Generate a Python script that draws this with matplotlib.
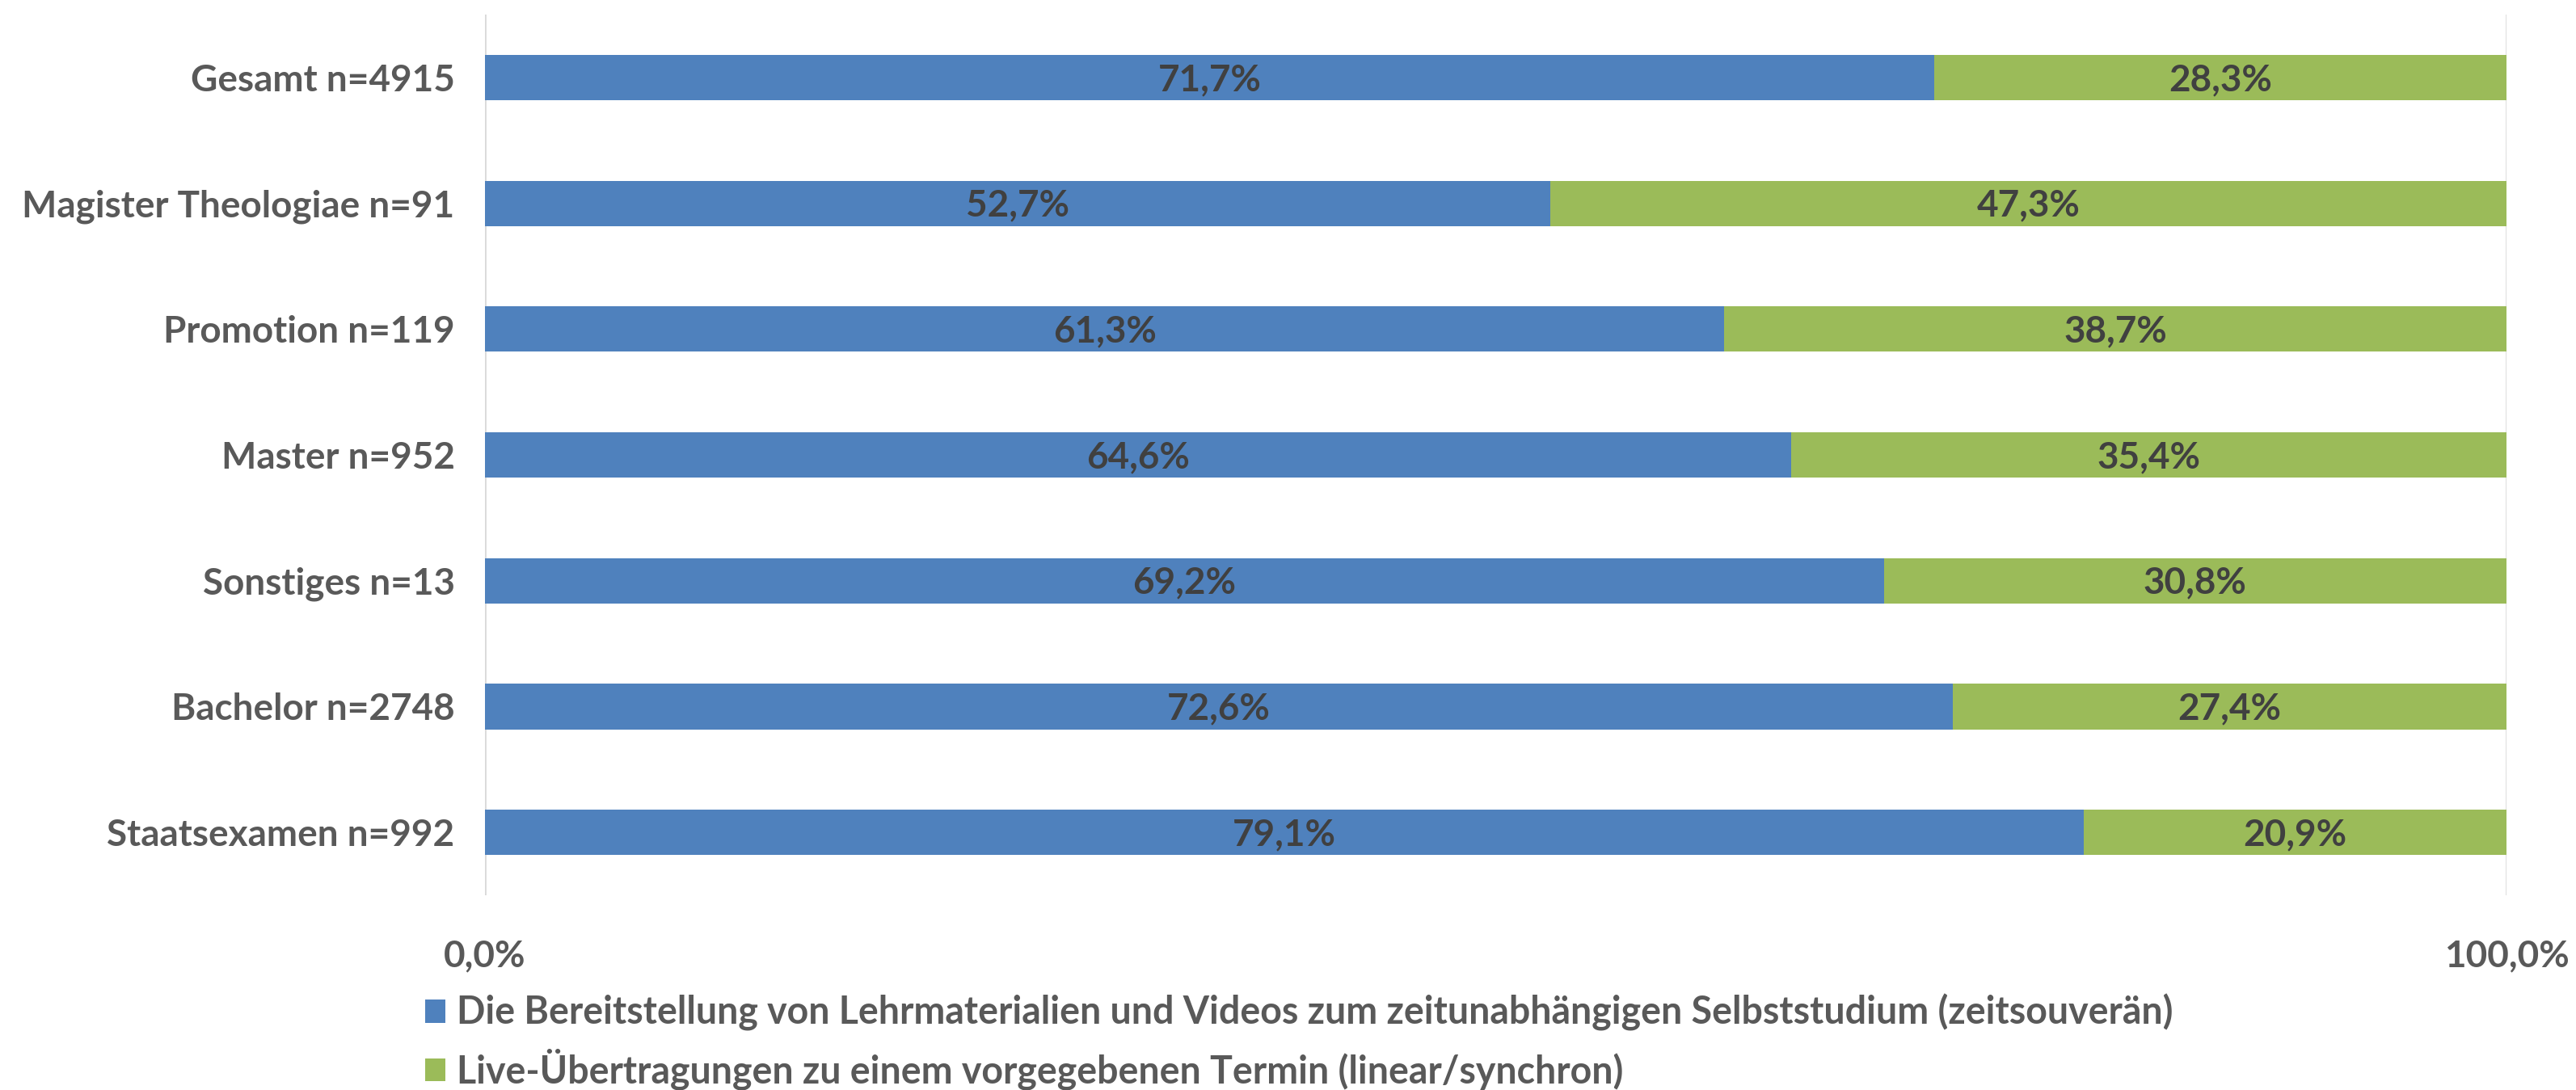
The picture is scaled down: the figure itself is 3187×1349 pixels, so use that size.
import numpy as np
from matplotlib import pyplot as plt

plt.rcParams['font.family'] = ['Lato', 'DejaVu Sans']

categories = ['Gesamt n=4915', 'Magister Theologiae n=91', 'Promotion n=119',
              'Master n=952', 'Sonstiges n=13', 'Bachelor n=2748', 'Staatsexamen n=992']
zeitsouveraen = [71.7, 52.7, 61.3, 64.6, 69.2, 72.6, 79.1]
synchron = [28.3, 47.3, 38.7, 35.4, 30.8, 27.4, 20.9]
series_names = ['Die Bereitstellung von Lehrmaterialien und Videos zum zeitunabhängigen Selbststudium (zeitsouverän)',
                'Live-Übertragungen zu einem vorgegebenen Termin (linear/synchron)']
tick_labels = ['0,0%', '100,0%']

blue = '#4F81BD'
green = '#9BBB59'
grey = '#595959'

fig = plt.figure(figsize=(31.87, 13.49), dpi=100)
ax = fig.add_axes([0.1883, 0.1786, 0.7847, 0.8081])

y = np.arange(len(categories))
a = np.array(zeitsouveraen)
b = np.array(synchron)
ax.barh(y, a, height=0.36, color=blue, label=series_names[0], zorder=3)
ax.barh(y, b, left=a, height=0.36, color=green, label=series_names[1], zorder=3)

# Datenbeschriftungen in der Mitte jedes Segments
for vals, lefts in [(a, np.zeros_like(a)), (b, a)]:
    for yi, v, l in zip(y, vals, lefts):
        ax.text(l + v / 2, yi + 0.02, f'{v:.1f}%'.replace('.', ','), ha='center', va='center',
                fontsize=33, fontweight='bold', color='#404040', zorder=4)

ax.set_ylim(len(categories) - 0.5, -0.5)
ax.set_xlim(0, 100)
ax.set_xticks([0, 100])
ax.set_xticklabels(tick_labels)
ax.set_yticks(y)
ax.set_yticklabels(categories)
ax.tick_params(length=0, labelsize=33, colors=grey)
ax.tick_params(axis='y', pad=27)
ax.tick_params(axis='x', pad=39)
for lab in ax.get_xticklabels() + ax.get_yticklabels():
    lab.set_fontweight('bold')
for s in ax.spines.values():
    s.set_visible(False)
ax.grid(axis='x', color='#D9D9D9', linewidth=2, zorder=0)

leg = fig.legend(loc='upper left', bbox_to_anchor=(0.165, 0.088), frameon=False,
                 fontsize=33.5, handlelength=0.55, handleheight=0.55, handletextpad=0.3,
                 labelspacing=0.45, borderaxespad=0, borderpad=0)
for t in leg.get_texts():
    t.set_color(grey)
    t.set_fontweight('bold')

fig.savefig('out.png', dpi=100)
